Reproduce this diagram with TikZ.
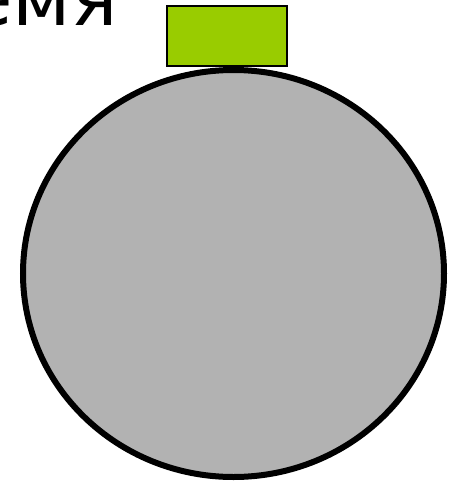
\documentclass[tikz,border=0pt]{standalone}
\usepackage{fontspec}
\setmainfont{DejaVu Sans}
\begin{document}
\begin{tikzpicture}[x=0.75pt,y=-0.75pt,
  bulb/.style={draw=black,line width=4.5pt,fill=black!30},
]
\definecolor{capgreen}{HTML}{99CC00}
\tikzset{capstyle/.style={draw=black,line width=1.5pt,fill=capgreen,inner sep=0pt,minimum width=90pt,minimum height=44.5pt}}
\useasboundingbox (0,0) rectangle (460,482);
\begin{scope}
\clip (0,0) rectangle (460,482);
\node[anchor=base east,inner sep=0pt,font=\fontsize{58}{58}\selectfont] (title) at (118,25) {время};
\end{scope}
\node[capstyle] (capbox) at (226.5,36) {};
\draw[bulb] (233.5,273.5) ellipse [x radius=210.5, y radius=203.5];
\coordinate (bulbc) at (233.5,273.5);
\end{tikzpicture}
\end{document}
